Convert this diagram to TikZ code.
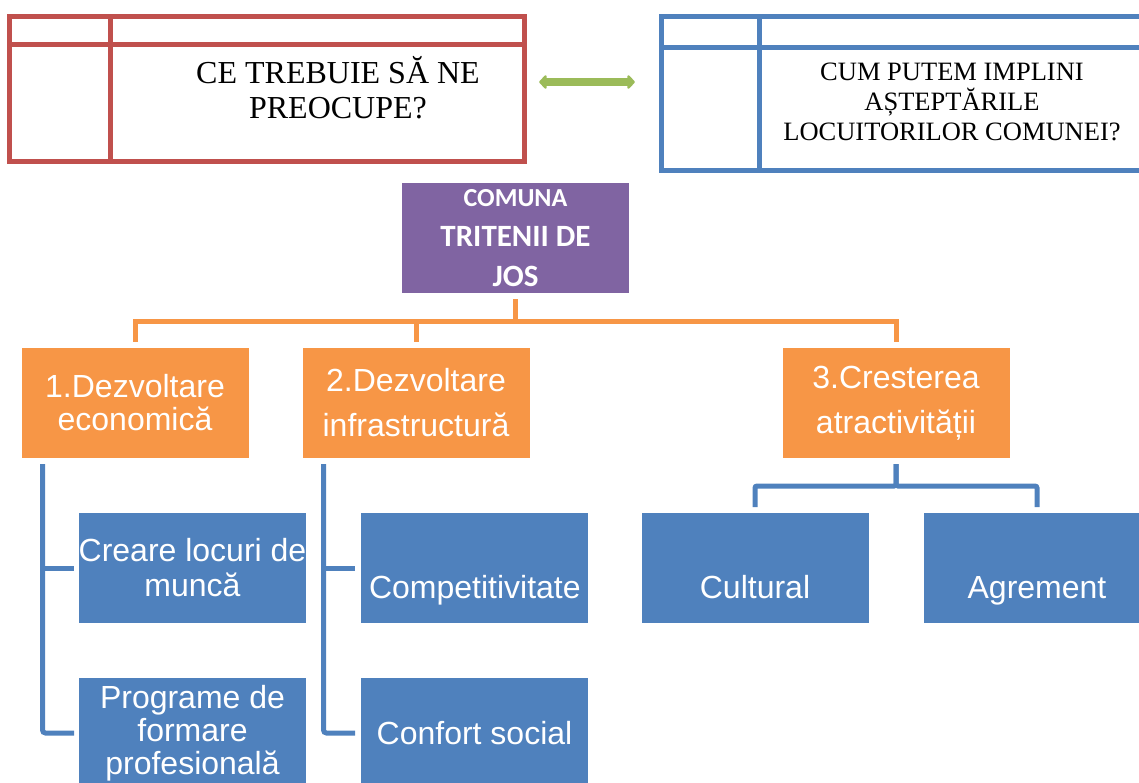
\documentclass[tikz,border=0pt]{standalone}
\usepackage{fontspec}
\setmainfont{Liberation Serif}
\setsansfont{Liberation Sans}
\newfontfamily\carlito{Carlito}
\usepackage{xcolor}
\usetikzlibrary{positioning, arrows.meta}

\definecolor{redq}{HTML}{C0504D}
\definecolor{blueq}{HTML}{4F81BD}
\definecolor{greenq}{HTML}{9BBB59}
\definecolor{purplec}{HTML}{8064A2}
\definecolor{orangec}{HTML}{F79646}

\begin{document}
\begin{tikzpicture}[
    x=1pt, y=1pt,
    >={Triangle[length=8pt, width=16pt, round]},
    tab/.style={draw, line width=5pt, inner sep=0pt, outer sep=0pt},
    redtab/.style={tab, draw=redq, minimum width=514.5pt, minimum height=145pt},
    bluetab/.style={tab, draw=blueq, minimum width=508.5pt, minimum height=154pt},
    qtext/.style={align=center, inner sep=0pt},
    box/.style={minimum width=227pt, minimum height=110pt, inner sep=0pt, outer sep=0pt, align=center, text=white, font=\sffamily\fontsize{32}{33}\selectfont},
    topbox/.style={box, fill=purplec, font=\carlito\bfseries\fontsize{31}{40}\selectfont},
    axis/.style={box, fill=orangec},
    sub/.style={box, fill=blueq, font=\sffamily\fontsize{32}{35}\selectfont},
    lowtxt/.style={text height=60pt, text depth=0pt},
    oline/.style={draw=orangec, line width=5pt},
    bline/.style={draw=blueq, line width=5pt},
    garr/.style={<->, draw=greenq, line width=8pt},
]
\useasboundingbox (0,0) rectangle (1139,-782);

% Questions
\node[redtab] (q1) at (266.75,-89) {};
\draw[redq, line width=5pt] ([yshift=-27.5pt]q1.north west) -- ([yshift=-27.5pt]q1.north east);
\draw[redq, line width=5pt] ([xshift=100.5pt]q1.north west) -- ([xshift=100.5pt]q1.south west);
\node[qtext, font=\fontsize{32}{35}\selectfont] (q1txt) at (338,-87.5) {CE TREBUIE SĂ NE\\PREOCUPE?};

\node[bluetab] (q2) at (915.75,-93.5) {};
\draw[blueq, line width=5pt] ([yshift=-30.5pt]q2.north west) -- ([yshift=-30.5pt]q2.north east);
\draw[blueq, line width=5pt] ([xshift=97.5pt]q2.north west) -- ([xshift=97.5pt]q2.south west);
\node[qtext, font=\fontsize{26.5}{30}\selectfont] (q2txt) at (952,-102) {CUM PUTEM IMPLINI\\AȘTEPTĂRILE\\LOCUITORILOR COMUNEI?};

\draw[garr, shorten <=15pt, shorten >=26.5pt] ([yshift=7pt]q1.east) -- ([yshift=11.5pt]q2.west);

% Commune
\node[topbox] (com) at (515.5,-238) {{\fontsize{26}{40}\selectfont COMUNA}\\TRITENII DE\\JOS};

% Directions
\node[axis] (ec) at (135,-403) {1.Dezvoltare\\economică};
\node[axis, right=54pt of ec, font=\sffamily\fontsize{32}{45}\selectfont] (inf) {2.Dezvoltare\\infrastructură};
\node[axis, right=253pt of inf, font=\sffamily\fontsize{32}{45}\selectfont] (atr) {3.Cresterea\\atractivității};

% Actions
\node[sub] (creare) at (192.5,-568) {Creare locuri de\\muncă};
\node[sub, below=55pt of creare, font=\sffamily\fontsize{32}{33}\selectfont] (prog) {Programe de\\formare\\profesională};
\node[sub, lowtxt, right=55pt of creare] (comp) {Competitivitate};
\node[sub, right=55pt of prog] (conf) {Confort social};
\node[sub, lowtxt] (cult) at (755,-568) {Cultural};
\node[sub, lowtxt, right=55pt of cult] (agr) {Agrement};

% Orange links
\coordinate (obus) at (515.5,-321);
\draw[oline, shorten <=6pt] (com.south) -- (obus);
\foreach \n in {ec, inf, atr}
    \draw[oline, shorten >=6pt] (obus) -| (\n.north);

% Blue links
\draw[bline, rounded corners=3pt, shorten <=6pt, shorten >=5pt] ([xshift=21pt]ec.south west) |- (prog.west);
\draw[bline, shorten >=5pt] ([xshift=21pt, yshift=-6pt]ec.south west) |- (creare.west);
\draw[bline, rounded corners=3pt, shorten <=6pt, shorten >=6pt] ([xshift=21pt]inf.south west) |- (conf.west);
\draw[bline, shorten >=6pt] ([xshift=21pt, yshift=-6pt]inf.south west) |- (comp.west);
\draw[bline, rounded corners=2pt, shorten <=6pt, shorten >=6pt] (atr.south) -- ++(0,-28) -| (cult.north);
\draw[bline, rounded corners=2pt, shorten <=6pt, shorten >=6pt] (atr.south) -- ++(0,-28) -| (agr.north);

\end{tikzpicture}
\end{document}
